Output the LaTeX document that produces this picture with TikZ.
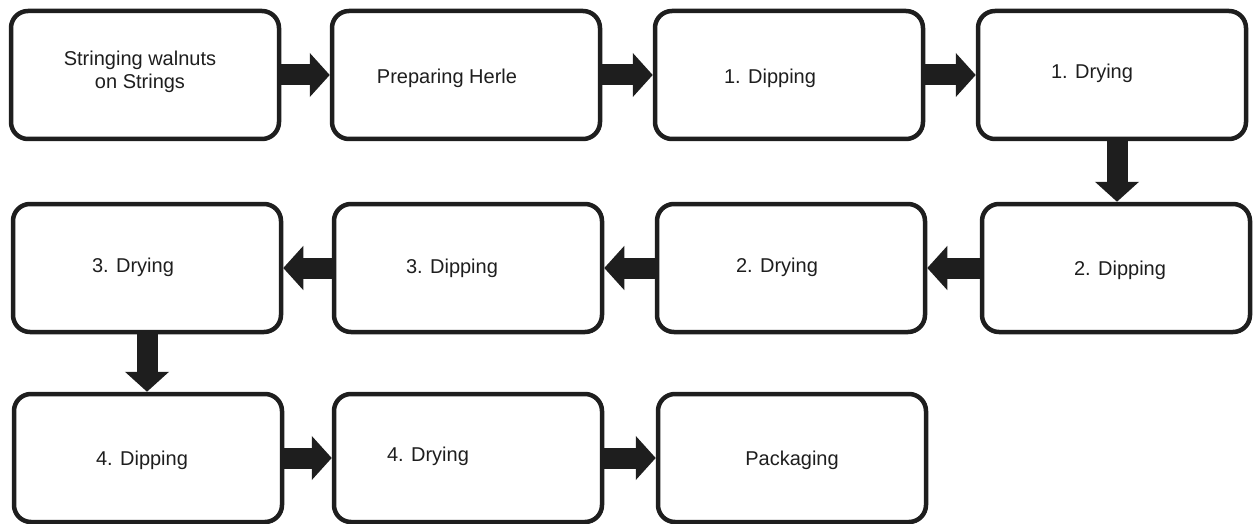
\documentclass[tikz,border=0pt]{standalone}
\usepackage{fontspec}
\setmainfont{Liberation Sans}
\usetikzlibrary{arrows.meta}
\definecolor{ink}{HTML}{1E1E1E}
\tikzset{
  stepbox/.style={draw=ink, line width=4.5pt, rounded corners=17pt,
    minimum width=268pt, minimum height=128pt, fill=white},
  steptext/.style={text=ink, font=\fontsize{20}{23}\selectfont, align=center, inner sep=0pt},
  flow/.style={draw=ink, line width=21pt, line cap=butt,
    -{Triangle[width=43pt,length=20pt]}}
}
\begin{document}
\begin{tikzpicture}[x=1pt,y=-1pt]
\useasboundingbox (0,0) rectangle (1253,524);
% row 1
\node[stepbox] (b1) at (145,75) {};
\node[stepbox] (b2) at (466,75) {};
\node[stepbox] (b3) at (789,75) {};
\node[stepbox] (b4) at (1112,75) {};
% row 2
\node[stepbox] (b5) at (1116,268) {};
\node[stepbox] (b6) at (791,268) {};
\node[stepbox] (b7) at (468,268) {};
\node[stepbox] (b8) at (147,268) {};
% row 3
\node[stepbox] (b9) at (148,458) {};
\node[stepbox] (b10) at (468,458) {};
\node[stepbox] (b11) at (792,458) {};
% labels
\node[steptext] (t1) at (140,72) {Stringing walnuts\\on Strings};
\node[steptext] (t2) at (447,78) {Preparing Herle};
\node[steptext] (t3) at (770,78) {1. Dipping};
\node[steptext] (t4) at (1092,73) {1. Drying};
\node[steptext] (t5) at (1120,270) {2. Dipping};
\node[steptext] (t6) at (777,267) {2. Drying};
\node[steptext] (t7) at (452,268) {3. Dipping};
\node[steptext] (t8) at (133,267) {3. Drying};
\node[steptext] (t9) at (142,460) {4. Dipping};
\node[steptext] (t10) at (428,456) {4. Drying};
\node[steptext] (t11) at (792,460) {Packaging};
% connectors
\draw[flow] (b1.east) -- (b2.west);
\draw[flow] (b2.east) -- (b3.west);
\draw[flow] (b3.east) -- (b4.west);
\draw[flow] ([xshift=5pt]b4.south) -- ([xshift=5pt]b4.south |- b5.north);
\draw[flow] (b5.west) -- (b6.east);
\draw[flow] (b6.west) -- (b7.east);
\draw[flow] (b7.west) -- (b8.east);
\draw[flow] (b8.south) -- (b8.south |- b9.north);
\draw[flow] (b9.east) -- (b10.west);
\draw[flow] (b10.east) -- (b11.west);
\end{tikzpicture}
\end{document}
